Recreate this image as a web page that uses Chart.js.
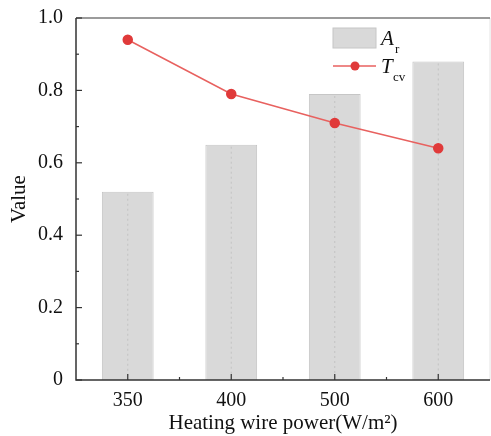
<!DOCTYPE html>
<html>
<head>
<meta charset="utf-8">
<script src="https://cdn.jsdelivr.net/npm/chart.js@4/dist/chart.umd.min.js"></script>
<style>
  body { margin: 0; background: #fff; }
  #wrap { width: 491px; height: 436px; }
</style>
</head>
<body>
<div id="wrap"><canvas id="chart" width="491" height="436"></canvas></div>
<script>
    // data
    const powers = ['350', '400', '500', '600'];
    const arValues = [0.52, 0.65, 0.79, 0.88];
    const tcvValues = [0.94, 0.79, 0.71, 0.64];
    const yTicks = [0, 0.2, 0.4, 0.6, 0.8, 1.0];

    const serif = '"Liberation Serif", "Times New Roman", serif';

    // no extra room for tick labels hanging past the plot edges
    function noOverhang(scale) {
        scale.paddingTop = 0;
        scale.paddingBottom = 0;
        scale.paddingLeft = 0;
        scale.paddingRight = 0;
    }

    // faint dotted centre line inside each bar
    const barLinePlugin = {
        id: 'barLine',
        afterDatasetDraw(chart, args) {
            if (args.index !== 1) return;
            const c = chart.ctx;
            c.save();
            c.strokeStyle = '#c2c2c2';
            c.lineWidth = 1;
            c.setLineDash([2, 3]);
            args.meta.data.forEach(bar => {
                c.beginPath();
                c.moveTo(bar.x, bar.y + 2);
                c.lineTo(bar.x, bar.base);
                c.stroke();
            });
            c.restore();
        }
    };

    // inward ticks, frame and legend with subscripts
    const decorPlugin = {
        id: 'decor',
        afterDraw(chart) {
            const c = chart.ctx;
            const area = chart.chartArea;
            const x = chart.scales.x;
            const y = chart.scales.y;
            c.save();
            // right frame, very faint
            c.strokeStyle = '#e4e4e4';
            c.lineWidth = 1;
            c.beginPath();
            c.moveTo(area.right, area.top);
            c.lineTo(area.right, area.bottom);
            c.stroke();
            // top frame
            c.strokeStyle = '#7a7a7a';
            c.lineWidth = 1.5;
            c.beginPath();
            c.moveTo(area.left, area.top);
            c.lineTo(area.right, area.top);
            c.stroke();
            // left and bottom axis lines
            c.strokeStyle = '#333';
            c.beginPath();
            c.moveTo(area.left, area.top);
            c.lineTo(area.left, area.bottom);
            c.lineTo(area.right, area.bottom);
            c.stroke();

            c.lineWidth = 1.2;
            // y ticks, major every 0.2 and minor in between
            for (let i = 0; i <= 10; i++) {
                const py = y.getPixelForValue(i / 10);
                const len = i % 2 === 0 ? 6 : 3;
                c.beginPath();
                c.moveTo(area.left, py);
                c.lineTo(area.left + len, py);
                c.stroke();
            }
            // x ticks: major at categories, minor at boundaries
            powers.forEach((p, i) => {
                const px = x.getPixelForValue(i);
                c.beginPath();
                c.moveTo(px, area.bottom);
                c.lineTo(px, area.bottom - 6);
                c.stroke();
                if (i > 0) {
                    const mx = (px + x.getPixelForValue(i - 1)) / 2;
                    c.beginPath();
                    c.moveTo(mx, area.bottom);
                    c.lineTo(mx, area.bottom - 3);
                    c.stroke();
                }
            });

            // legend
            const lx = area.left + 257;
            const ly = area.top + 10;
            c.fillStyle = '#d9d9d9';
            c.strokeStyle = '#c6c6c6';
            c.lineWidth = 1;
            c.fillRect(lx, ly, 43, 20);
            c.strokeRect(lx, ly, 43, 20);

            c.strokeStyle = '#e8615f';
            c.lineWidth = 1.5;
            c.beginPath();
            c.moveTo(lx, ly + 38);
            c.lineTo(lx + 43, ly + 38);
            c.stroke();
            c.fillStyle = '#e03a3a';
            c.beginPath();
            c.arc(lx + 22, ly + 38, 4.5, 0, Math.PI * 2);
            c.fill();

            c.fillStyle = '#111';
            c.textBaseline = 'alphabetic';
            c.textAlign = 'left';
            c.font = 'italic 21px ' + serif;
            c.fillText('A', lx + 48, ly + 17);
            c.fillText('T', lx + 48, ly + 45);
            c.font = '13px ' + serif;
            c.fillText('r', lx + 62, ly + 25);
            c.fillText('cv', lx + 60, ly + 53);
            c.restore();
        }
    };

    const ctx = document.getElementById('chart').getContext('2d');
    const chart = new Chart(ctx, {
        type: 'bar',
        data: {
            labels: powers,
            datasets: [
                {
                    type: 'line',
                    label: 'Tcv',
                    data: tcvValues,
                    borderColor: '#e8615f',
                    borderWidth: 1.5,
                    pointBackgroundColor: '#e03a3a',
                    pointBorderColor: '#e03a3a',
                    pointRadius: 4.5,
                    tension: 0,
                    order: 0
                },
                {
                    label: 'Ar',
                    data: arValues,
                    backgroundColor: '#d9d9d9',
                    borderColor: '#c6c6c6',
                    borderWidth: 1,
                    categoryPercentage: 1,
                    barPercentage: 0.5,
                    order: 1
                }
            ]
        },
        options: {
            responsive: false,
            animation: false,
            layout: {
                autoPadding: false,
                padding: { top: 18, right: 1, left: 0, bottom: 0 }
            },
            plugins: {
                legend: { display: false },
                tooltip: { enabled: false }
            },
            scales: {
                x: {
                    grid: { display: false, drawTicks: false },
                    border: { display: false },
                    ticks: {
                        color: '#111',
                        font: { family: serif, size: 20 },
                        padding: 9
                    },
                    title: {
                        display: true,
                        text: 'Heating wire power(W/m²)',
                        color: '#111',
                        font: { family: serif, size: 21 },
                        padding: { top: 0, bottom: 0 }
                    },
                    afterFit(scale) {
                        scale.height = 56;
                        noOverhang(scale);
                    }
                },
                y: {
                    min: 0,
                    max: 1,
                    afterBuildTicks(scale) {
                        scale.ticks = yTicks.map(v => ({ value: v }));
                    },
                    grid: { display: false, drawTicks: false },
                    border: { display: false },
                    ticks: {
                        color: '#111',
                        font: { family: serif, size: 20 },
                        padding: 13,
                        callback: v => (v === 0 ? '0' : Number(v).toFixed(1))
                    },
                    title: {
                        display: true,
                        text: 'Value',
                        color: '#111',
                        font: { family: serif, size: 21 },
                        padding: { top: 7, bottom: 0 }
                    },
                    afterFit(scale) {
                        scale.width = 76;
                        noOverhang(scale);
                    }
                }
            }
        },
        plugins: [barLinePlugin, decorPlugin]
    });
</script>
</body>
</html>
